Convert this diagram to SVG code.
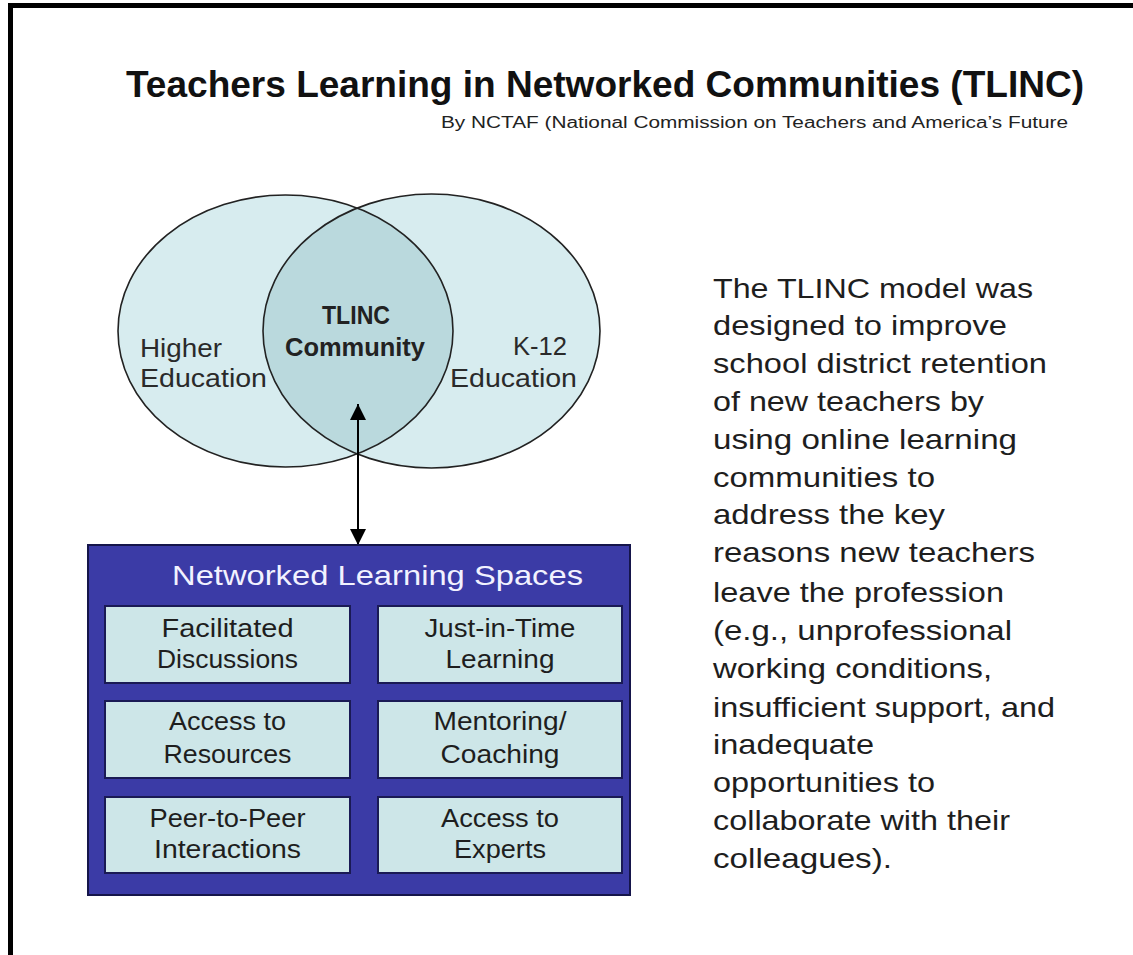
<svg xmlns="http://www.w3.org/2000/svg" width="1133" height="955" viewBox="0 0 1133 955">
<defs>
<style>
.t{font-family:"Liberation Sans",Arial,sans-serif;}
.venn{font-size:26px;fill:#2a2a2a;}
.vb{font-size:25px;font-weight:bold;fill:#222;}
.bx{font-size:25px;fill:#1e1e1e;text-anchor:middle;}
.para{font-size:28px;fill:#1e1e1e;}
.cell{fill:#cde6e8;stroke:#1a1a55;stroke-width:2;}
</style>
<clipPath id="leftClip"><ellipse cx="285.5" cy="331" rx="167.5" ry="136"/></clipPath>
<marker id="ah" viewBox="0 0 10 10" refX="10" refY="5" markerWidth="16" markerHeight="16" markerUnits="userSpaceOnUse" orient="auto-start-reverse"><path d="M0,0 L10,5 L0,10 z" fill="#000"/></marker>
</defs>
<rect width="1133" height="955" fill="#fff"/>
<path d="M10.5,955 V5.5 H1133" fill="none" stroke="#000" stroke-width="5"/>

<g id="title">
<text class="t" x="126" y="97" font-size="37" font-weight="bold" fill="#111" textLength="958" lengthAdjust="spacingAndGlyphs">Teachers Learning in Networked Communities (TLINC)</text>
<text class="t" x="441" y="128" font-size="16" fill="#222" textLength="627" lengthAdjust="spacingAndGlyphs">By NCTAF (National Commission on Teachers and America’s Future</text>
</g>

<g id="venn">
<ellipse cx="285.5" cy="331" rx="167.5" ry="136" fill="#d7ecef"/>
<ellipse cx="431.5" cy="331" rx="168.5" ry="137" fill="#d7ecef"/>
<ellipse cx="431.5" cy="331" rx="168.5" ry="137" fill="#bad9dd" clip-path="url(#leftClip)"/>
<ellipse cx="285.5" cy="331" rx="167.5" ry="136" fill="none" stroke="#222" stroke-width="1.6"/>
<ellipse cx="431.5" cy="331" rx="168.5" ry="137" fill="none" stroke="#222" stroke-width="1.6"/>
</g>
<g id="higher-education">
<text class="t venn" x="140" y="357" textLength="82" lengthAdjust="spacingAndGlyphs">Higher</text>
<text class="t venn" x="140" y="387" textLength="127" lengthAdjust="spacingAndGlyphs">Education</text>
</g>
<g id="tlinc-community">
<text class="t vb" x="322" y="324" textLength="68" lengthAdjust="spacingAndGlyphs">TLINC</text>
<text class="t vb" x="285" y="356" textLength="140" lengthAdjust="spacingAndGlyphs">Community</text>
</g>
<g id="k12-education">
<text class="t venn" x="513" y="355" textLength="54" lengthAdjust="spacingAndGlyphs">K-12</text>
<text class="t venn" x="450" y="387" textLength="127" lengthAdjust="spacingAndGlyphs">Education</text>
</g>

<g id="connectors">
<line x1="358" y1="404" x2="358" y2="545" stroke="#000" stroke-width="2" marker-start="url(#ah)" marker-end="url(#ah)"/>
</g>

<g id="networked-learning-spaces">
<rect x="88" y="545" width="542" height="350" fill="#3b3ba6" stroke="#15154a" stroke-width="2"/>
<text class="t" x="172" y="585" font-size="28" fill="#f2f2ff" textLength="411" lengthAdjust="spacingAndGlyphs">Networked Learning Spaces</text>
</g>
<g id="facilitated-discussions">
<rect class="cell" x="105" y="606" width="245" height="77"/>
<text class="t bx" x="227.5" y="637" textLength="132" lengthAdjust="spacingAndGlyphs">Facilitated</text>
<text class="t bx" x="227.5" y="668" textLength="141" lengthAdjust="spacingAndGlyphs">Discussions</text>
</g>
<g id="just-in-time-learning">
<rect class="cell" x="378" y="606" width="244" height="77"/>
<text class="t bx" x="500" y="637" textLength="151" lengthAdjust="spacingAndGlyphs">Just-in-Time</text>
<text class="t bx" x="500" y="668" textLength="109" lengthAdjust="spacingAndGlyphs">Learning</text>
</g>
<g id="access-to-resources">
<rect class="cell" x="105" y="701" width="245" height="77"/>
<text class="t bx" x="227.5" y="730" textLength="117" lengthAdjust="spacingAndGlyphs">Access to</text>
<text class="t bx" x="227.5" y="763" textLength="128" lengthAdjust="spacingAndGlyphs">Resources</text>
</g>
<g id="mentoring-coaching">
<rect class="cell" x="378" y="701" width="244" height="77"/>
<text class="t bx" x="500" y="730" textLength="133" lengthAdjust="spacingAndGlyphs">Mentoring/</text>
<text class="t bx" x="500" y="763" textLength="119" lengthAdjust="spacingAndGlyphs">Coaching</text>
</g>
<g id="peer-to-peer-interactions">
<rect class="cell" x="105" y="797" width="245" height="76"/>
<text class="t bx" x="227.5" y="827" textLength="156" lengthAdjust="spacingAndGlyphs">Peer-to-Peer</text>
<text class="t bx" x="227.5" y="858" textLength="147" lengthAdjust="spacingAndGlyphs">Interactions</text>
</g>
<g id="access-to-experts">
<rect class="cell" x="378" y="797" width="244" height="76"/>
<text class="t bx" x="500" y="827" textLength="118" lengthAdjust="spacingAndGlyphs">Access to</text>
<text class="t bx" x="500" y="858" textLength="92" lengthAdjust="spacingAndGlyphs">Experts</text>
</g>

<g id="description" class="t para">
<text x="713" y="298" textLength="320" lengthAdjust="spacingAndGlyphs">The TLINC model was</text>
<text x="713" y="335.3" textLength="294" lengthAdjust="spacingAndGlyphs">designed to improve</text>
<text x="713" y="372.9" textLength="334" lengthAdjust="spacingAndGlyphs">school district retention</text>
<text x="713" y="410.8" textLength="271" lengthAdjust="spacingAndGlyphs">of new teachers by</text>
<text x="713" y="448.6" textLength="304" lengthAdjust="spacingAndGlyphs">using online learning</text>
<text x="713" y="486.5" textLength="222" lengthAdjust="spacingAndGlyphs">communities to</text>
<text x="713" y="524.4" textLength="232" lengthAdjust="spacingAndGlyphs">address the key</text>
<text x="713" y="562.3" textLength="322" lengthAdjust="spacingAndGlyphs">reasons new teachers</text>
<text x="713" y="602" textLength="291" lengthAdjust="spacingAndGlyphs">leave the profession</text>
<text x="713" y="640" textLength="299" lengthAdjust="spacingAndGlyphs">(e.g., unprofessional</text>
<text x="713" y="678" textLength="279" lengthAdjust="spacingAndGlyphs">working conditions,</text>
<text x="713" y="716.5" textLength="342" lengthAdjust="spacingAndGlyphs">insufficient support, and</text>
<text x="713" y="753.5" textLength="161" lengthAdjust="spacingAndGlyphs">inadequate</text>
<text x="713" y="792" textLength="222" lengthAdjust="spacingAndGlyphs">opportunities to</text>
<text x="713" y="830" textLength="297" lengthAdjust="spacingAndGlyphs">collaborate with their</text>
<text x="713" y="868" textLength="179" lengthAdjust="spacingAndGlyphs">colleagues).</text>
</g>
</svg>
